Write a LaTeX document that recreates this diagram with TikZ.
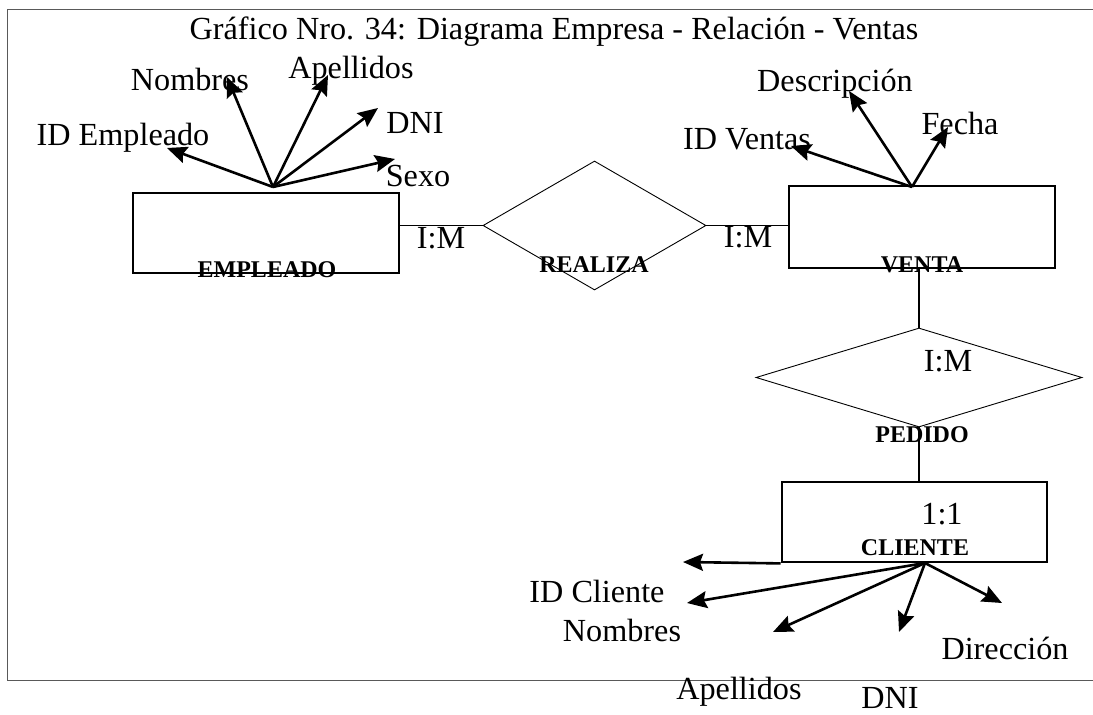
\documentclass[tikz,border=0pt]{standalone}
\usepackage{fontspec}
\setmainfont{Liberation Serif}
\usetikzlibrary{shapes.geometric,arrows.meta}
\begin{document}
\begin{tikzpicture}[x=1pt,y=-1pt,
  txt/.style={inner sep=0pt, font=\fontsize{32.2}{38}\selectfont},
  lbl/.style={inner sep=0pt, font=\fontsize{24}{29}\selectfont\bfseries},
  entity/.style={draw, line width=2.8pt, rectangle, inner sep=0pt},
  rel/.style={draw, line width=0.9pt, diamond, inner sep=0pt},
  link/.style={line width=1.8pt},
  attr/.style={line width=2.6pt, -{Stealth[length=20pt,width=17pt,inset=3pt]}},
  frame/.style={line width=1pt, draw=black!65}]
\useasboundingbox (0,0) rectangle (1093,715);

% outer frame (open on the right)
\draw[frame] (1093,9) -- (7,9) -- (7,680) -- (1093,680);

% title
\node[txt] (title) at (554,32) {Gráfico Nro. 34: Diagrama Empresa - Relación - Ventas};

% entities
\node[entity, minimum width=266pt, minimum height=80pt] (empleado) at (266,233) {};
\node[entity, minimum width=266pt, minimum height=82pt] (venta) at (922,227) {};
\node[entity, minimum width=265pt, minimum height=80pt] (cliente) at (914.5,522) {};

% relationships
\node[rel, minimum width=223pt, minimum height=129pt] (realiza) at (594.5,225.5) {};
\node[rel, minimum width=326pt, minimum height=99pt] (pedido) at (919,377.5) {};

% entity / relationship labels
\node[lbl] (lempleado) at (267,270) {EMPLEADO};
\node[lbl] (lrealiza) at (594,265) {REALIZA};
\node[lbl] (lventa) at (922,265) {VENTA};
\node[lbl] (lpedido) at (922,435) {PEDIDO};
\node[lbl] (lcliente) at (915,548) {CLIENTE};

% links between entities and relationships
\draw[link] (realiza.west) -- (realiza.west -| empleado.east);
\draw[link] (realiza.east) -- (realiza.east -| venta.west);
\draw[line width=1.2pt] (pedido.north) -- (pedido.north |- venta.south);
\draw[line width=1.2pt] (pedido.south) -- (pedido.south |- cliente.north);

% cardinalities
\node[txt] (c1) at (441,238) {I:M};
\node[txt] (c2) at (748,237) {I:M};
\node[txt] (c3) at (948,361) {I:M};
\node[txt] (c4) at (942,514) {1:1};

% EMPLEADO attributes
\coordinate (eo) at (273,187);
\coordinate (e1) at (167,148);
\coordinate (e2) at (227,77);
\coordinate (e3) at (328,75);
\coordinate (e4) at (378,108);
\coordinate (e5) at (395,159);
\node[txt] (aide) at (123,138) {ID Empleado};
\node[txt] (anom) at (190,79) {Nombres};
\node[txt] (aape) at (351,71) {Apellidos};
\node[txt] (adni) at (415,123) {DNI};
\node[txt] (asex) at (418,176) {Sexo};
\foreach \t in {e1,e2,e3,e4,e5} \draw[attr] (eo) -- (\t);

% VENTA attributes
\coordinate (vo) at (912,187);
\coordinate (v1) at (791,146);
\coordinate (v2) at (849,91);
\coordinate (v3) at (948,127);
\node[txt] (vid) at (747,139) {ID Ventas};
\node[txt] (vdes) at (835,84) {Descripción};
\node[txt] (vfec) at (960,123) {Fecha};
\foreach \t in {v1,v2,v3} \draw[attr] (vo) -- (\t);

% CLIENTE attributes
\coordinate (co) at (925,563);
\coordinate (k0) at (683,562);
\coordinate (k1) at (687,603);
\coordinate (k2) at (773,632);
\coordinate (k3) at (899,632);
\coordinate (k4) at (1002,603);
\node[txt] (cid) at (597,591) {ID Cliente};
\node[txt] (cnom) at (622,630) {Nombres};
\node[txt] (cape) at (739,692) {Apellidos};
\node[txt] (cdni) at (890,698) {DNI};
\node[txt] (cdir) at (1005,648) {Dirección};
\draw[attr] (cliente.south west) -- (k0);
\foreach \t in {k1,k2,k3,k4} \draw[attr] (co) -- (\t);
\end{tikzpicture}
\end{document}
